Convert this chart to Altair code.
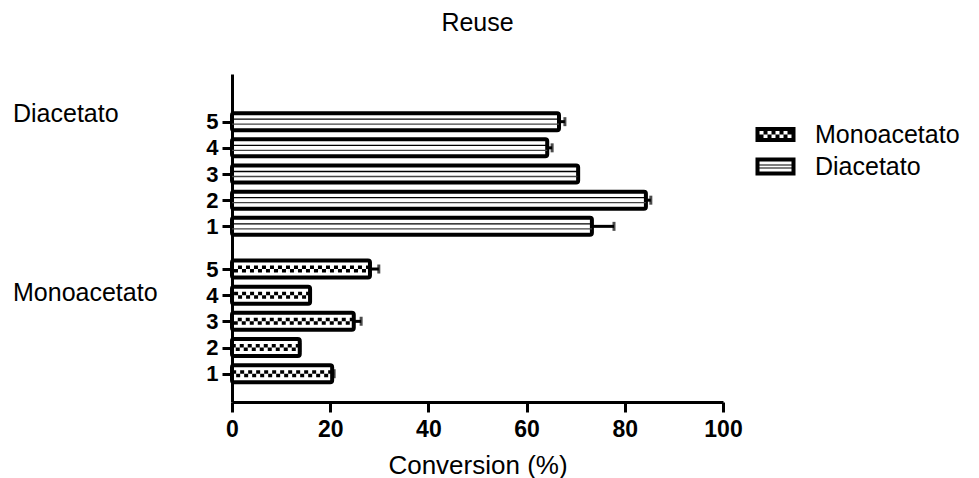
import altair as alt
import pandas as pd

# ---- data ----
groups = ["Monoacetato", "Diacetato"]
replicates = [1, 2, 3, 4, 5]
mono_values = [20.4, 13.8, 24.8, 15.9, 28.1]
mono_errors = [0.4, 0.0, 1.5, 0.0, 1.8]
dia_values = [73.3, 84.3, 70.5, 64.2, 66.6]
dia_errors = [4.5, 1.0, 0.0, 1.0, 1.2]
x_ticks = [0, 20, 40, 60, 80, 100]

# layout: row position of each replicate inside its group (group block offset)
GROUP_OFFSET = {"Monoacetato": 0.0, "Diacetato": 5.63}
LABEL_POS = {"Monoacetato": 4.07, "Diacetato": 10.92}

rows = []
for g, vals, errs in [("Monoacetato", mono_values, mono_errors),
                      ("Diacetato", dia_values, dia_errors)]:
    for r, v, e in zip(replicates, vals, errs):
        rows.append({"group": g, "rep": r, "pos": r + GROUP_OFFSET[g],
                     "val": v, "upper": v + e})
df = pd.DataFrame(rows)
df_mono = df[df.group == "Monoacetato"]
df_dia = df[df.group == "Diacetato"]

y_ticks = [r + GROUP_OFFSET[g] for g in groups for r in replicates]
labels_df = pd.DataFrame({"group": groups, "pos": [LABEL_POS[g] for g in groups]})
legend_df = pd.DataFrame({"group": groups})

FONT = "Liberation Sans"

xenc = alt.X("val:Q", stack=None,
             scale=alt.Scale(domain=[0, 100], nice=False),
             axis=alt.Axis(values=x_ticks, title="Conversion (%)", grid=False,
                           tickCount=20,
                           domainWidth=3, domainColor="black", tickWidth=3,
                           tickSize=10, tickColor="black", labelFontSize=23,
                           labelFontWeight="bold", labelColor="black",
                           labelPadding=6, labelFlush=False, labelOverlap=False,
                           titleFontSize=26,
                           titleFontWeight="normal", titleColor="black",
                           titlePadding=11, labelFont=FONT, titleFont=FONT))
yenc = alt.Y("pos:Q",
             scale=alt.Scale(domain=[0.11, 12.26], nice=False, zero=False),
             axis=alt.Axis(values=y_ticks, title=None, grid=False, tickCount=40,
                           labelExpr="'' + round(datum.value > 6 ? datum.value - 5.63 : datum.value)",
                           labelOverlap=False, labelFlush=False,
                           domainWidth=3, domainColor="black", tickWidth=3,
                           tickSize=10, tickColor="black", labelFontSize=22,
                           labelFontWeight="bold", labelColor="black",
                           labelPadding=4, labelFont=FONT))

base = alt.Chart(df)

bars = base.mark_bar(orient="horizontal", size=17, fill="white", stroke="black",
                     strokeWidth=4, cornerRadius=2).encode(
    x=xenc, x2=alt.datum(0), y=yenc)

# diacetato: two thin horizontal stripes
dia_s1 = alt.Chart(df_dia).mark_rule(color="black", strokeWidth=1.3, yOffset=-2.5).encode(
    x=alt.X("val:Q"), x2=alt.datum(0), y="pos:Q")
dia_s2 = alt.Chart(df_dia).mark_rule(color="#444444", strokeWidth=1.3, yOffset=2.5).encode(
    x=alt.X("val:Q"), x2=alt.datum(0), y="pos:Q")

# monoacetato: checker band
mono_c1 = alt.Chart(df_mono).mark_rule(color="black", strokeWidth=3.5, yOffset=-1.75,
                                       strokeDash=[4, 4]).encode(
    x=alt.X("val:Q"), x2=alt.datum(0), y="pos:Q")
mono_c2 = alt.Chart(df_mono).mark_rule(color="black", strokeWidth=3.5, yOffset=1.75,
                                       strokeDash=[4, 4], strokeDashOffset=4).encode(
    x=alt.X("val:Q"), x2=alt.datum(0), y="pos:Q")

err = base.mark_rule(color="black", strokeWidth=3).encode(
    x="val:Q", x2="upper:Q", y="pos:Q")
caps = base.mark_tick(orient="vertical", size=9, thickness=3, color="black").encode(
    x="upper:Q", y="pos:Q")

group_text = alt.Chart(labels_df).mark_text(align="left", baseline="middle",
                                            fontSize=25, font=FONT, color="black").encode(
    x=alt.value(-219), y="pos:Q", text="group:N")

# legend symbols as custom paths (unit = 12 px)
def rect(x0, y0, x1, y1, cw=True):
    if cw:
        return f"M{x0},{y0}L{x1},{y0}L{x1},{y1}L{x0},{y1}Z"
    return f"M{x0},{y0}L{x0},{y1}L{x1},{y1}L{x1},{y0}Z"

mono_path = rect(-1.667, -0.625, 1.667, 0.625)
cell = 0.3333
for i in range(8):
    xa = -1.333 + i * cell
    xb = xa + cell
    if i % 2 == 0:
        mono_path += rect(round(xa, 3), -0.29, round(xb, 3), 0.0, cw=False)
    else:
        mono_path += rect(round(xa, 3), 0.0, round(xb, 3), 0.29, cw=False)

dia_path = (rect(-1.667, -0.75, 1.667, 0.75)
            + rect(-1.333, -0.417, 1.333, 0.417, cw=False)
            + rect(-1.333, -0.17, 1.333, -0.08)
            + rect(-1.333, 0.08, 1.333, 0.17))

legend_layer = alt.Chart(legend_df).mark_point(filled=True, color="black", opacity=0,
                                               size=576).encode(
    shape=alt.Shape("group:N",
                    scale=alt.Scale(domain=groups, range=[mono_path, dia_path]),
                    legend=alt.Legend(title=None, orient="none", legendX=531, legendY=48,
                                      symbolOpacity=1, symbolSize=576,
                                      symbolFillColor="black", symbolStrokeWidth=0,
                                      labelFontSize=25, labelFont=FONT,
                                      labelColor="black", labelLimit=0,
                                      labelOffset=27, rowPadding=6, padding=0)))

chart = alt.layer(bars, dia_s1, dia_s2, mono_c1, mono_c2, err, caps,
                  group_text, legend_layer).properties(
    width=491, height=328,
    title=alt.TitleParams("Reuse", fontSize=25, fontWeight="normal", font=FONT,
                          color="black", anchor="middle", offset=38),
    padding={"left": 13, "top": 11, "right": 5, "bottom": 5},
).configure(background="white", view=alt.ViewConfig(stroke=None))

chart.save("out.html", embed_options={"renderer": "svg", "actions": False})
